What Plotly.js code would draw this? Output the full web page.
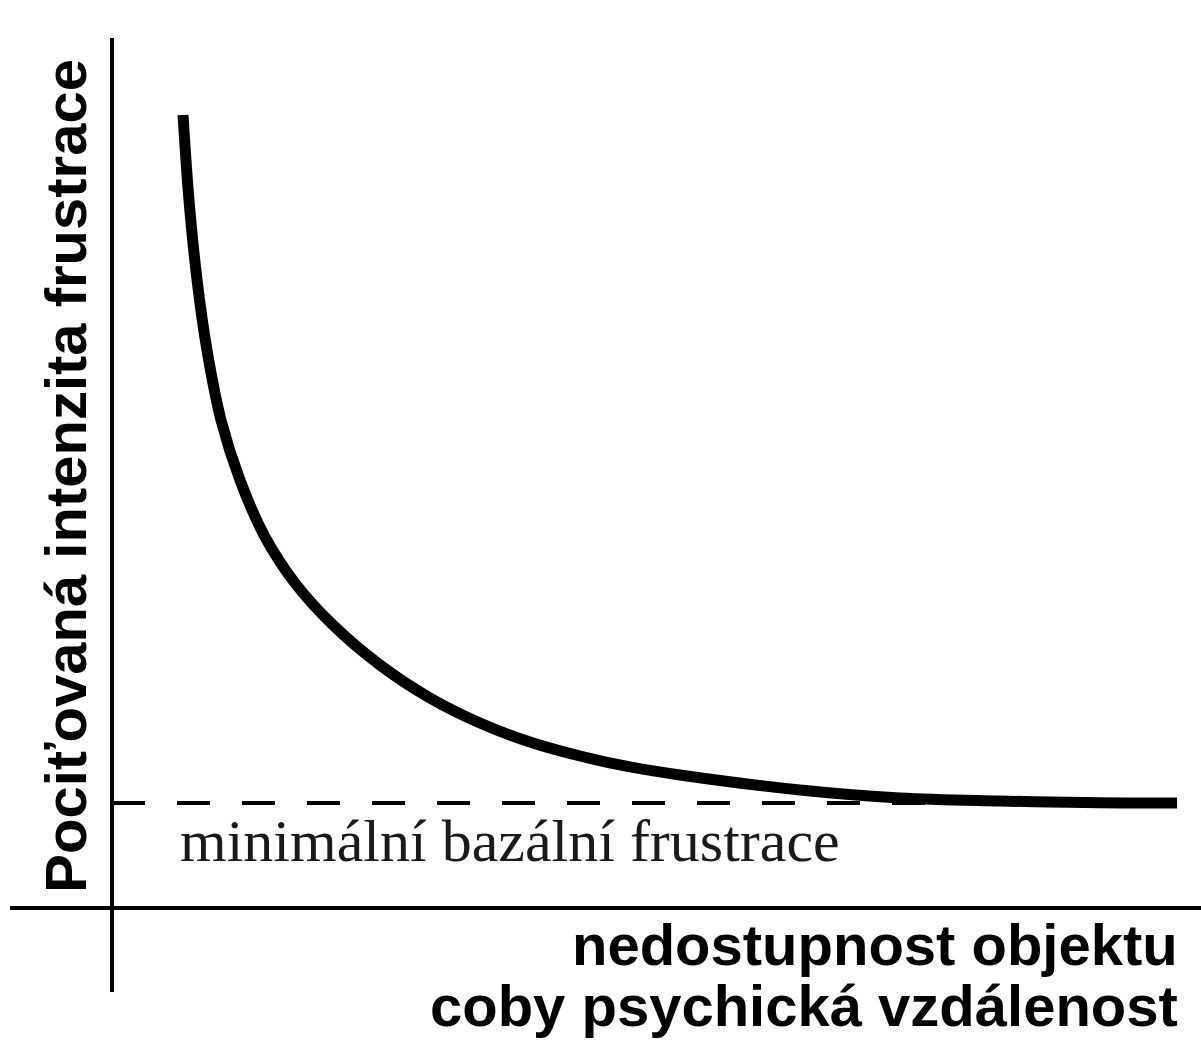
<!DOCTYPE html>
<html>
<head>
<meta charset="utf-8">
<script src="https://cdn.plot.ly/plotly-3.0.1.min.js"></script>
<style>
  html, body { margin: 0; padding: 0; background: #ffffff; }
  #chart { width: 1201px; height: 1040px; }
</style>
</head>
<body>
<div id="chart"></div>
<script>
// Psychological distance (object unavailability) vs. perceived frustration
const distance = [0.652, 0.707, 0.781, 0.872, 1.001, 1.175, 1.396, 1.680, 2.020, 2.461, 2.920, 3.379, 3.838, 4.298, 4.757, 5.216, 6.318, 7.236, 8.154, 9.073, 9.780];
const frustration = [9.115, 8.138, 7.218, 6.414, 5.609, 4.920, 4.287, 3.736, 3.264, 2.793, 2.414, 2.126, 1.908, 1.747, 1.621, 1.529, 1.356, 1.264, 1.230, 1.210, 1.207];

// Minimal basal frustration level
const baselineX = [0, 9.78];
const baselineY = [1.207, 1.207];

const yTitle = "Pociťovaná intenzita frustrace";
const xTitleLines = ["nedostupnost objektu", "coby psychická vzdálenost"];
const baselineLabel = "minimální bazální frustrace";

const traces = [
  {
    x: baselineX, y: baselineY, type: "scatter", mode: "lines",
    line: { color: "#000000", width: 4, dash: "33px,32px" },
    hoverinfo: "skip", showlegend: false
  },
  {
    x: distance, y: frustration, type: "scatter", mode: "lines",
    line: { color: "#000000", width: 11, shape: "spline", smoothing: 1 },
    hoverinfo: "skip", showlegend: false
  }
];

const sansBold = "Liberation Sans, Arial, sans-serif";

const layout = {
  width: 1201, height: 1040,
  margin: { l: 112, r: 0, t: 38, b: 132, pad: 0 },
  paper_bgcolor: "#ffffff", plot_bgcolor: "#ffffff",
  showlegend: false,
  xaxis: { range: [0, 10], showgrid: false, zeroline: false, showticklabels: false, showline: false, ticks: "", fixedrange: true },
  yaxis: { range: [0, 10], showgrid: false, zeroline: false, showticklabels: false, showline: false, ticks: "", fixedrange: true },
  shapes: [
    { type: "line", xref: "paper", yref: "paper", x0: 0, x1: 0, y0: -0.0966, y1: 1, line: { color: "#000", width: 4 } },
    { type: "line", xref: "paper", yref: "paper", x0: -0.0937, x1: 1.0, y0: 0, y1: 0, line: { color: "#000", width: 4 } }
  ],
  annotations: [
    { text: yTitle, xref: "paper", yref: "paper", x: -0.0425, y: 0.4966, xanchor: "center", yanchor: "middle",
      textangle: -90, showarrow: false, font: { family: sansBold, size: 58, color: "#000", weight: "bold" } },
    { text: xTitleLines[0], xref: "paper", yref: "paper", x: 0.9807, y: -0.0425, xanchor: "right", yanchor: "middle",
      showarrow: false, font: { family: sansBold, size: 58, color: "#000", weight: "bold" } },
    { text: xTitleLines[1], xref: "paper", yref: "paper", x: 0.9807, y: -0.1126, xanchor: "right", yanchor: "middle",
      showarrow: false, font: { family: sansBold, size: 58, color: "#000", weight: "bold" } },
    { text: baselineLabel, xref: "x", yref: "y", x: 0.606, y: 0.77, xanchor: "left", yanchor: "middle",
      showarrow: false, font: { family: "Liberation Serif, Times New Roman, serif", size: 60, color: "#1a1a1a" } }
  ]
};

Plotly.newPlot("chart", traces, layout, { displayModeBar: false, staticPlot: true });
</script>
</body>
</html>
